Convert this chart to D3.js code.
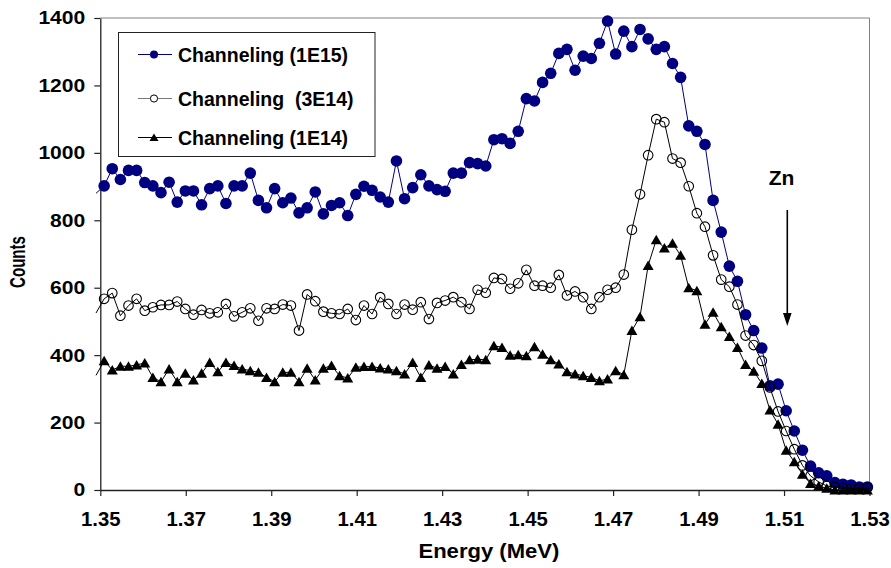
<!DOCTYPE html>
<html>
<head>
<meta charset="utf-8">
<script src="https://d3js.org/d3.v7.min.js"></script>
<style>
  body { margin: 0; background: #fff; }
  text { font-family: "Liberation Sans", Arial, sans-serif; font-weight: bold; fill: #000; }
</style>
</head>
<body>
<script>
// channel energies (MeV); the first channel lies just left of the axis
var energy = [
  1.3490,
  1.3509, 1.3528, 1.3547, 1.3566, 1.3585, 1.3604, 1.3623, 1.3642, 1.3661, 1.3680,
  1.3699, 1.3718, 1.3737, 1.3756, 1.3775, 1.3794, 1.3813, 1.3832, 1.3851, 1.3870,
  1.3889, 1.3908, 1.3927, 1.3946, 1.3965, 1.3984, 1.4003, 1.4022, 1.4041, 1.4060,
  1.4079, 1.4098, 1.4117, 1.4136, 1.4155, 1.4174, 1.4193, 1.4212, 1.4231, 1.4250,
  1.4269, 1.4288, 1.4307, 1.4326, 1.4345, 1.4364, 1.4383, 1.4402, 1.4421, 1.4440,
  1.4459, 1.4478, 1.4497, 1.4516, 1.4535, 1.4554, 1.4573, 1.4592, 1.4611, 1.4630,
  1.4649, 1.4668, 1.4687, 1.4706, 1.4725, 1.4744, 1.4763, 1.4782, 1.4801, 1.4820,
  1.4839, 1.4858, 1.4877, 1.4896, 1.4915, 1.4934, 1.4953, 1.4972, 1.4991, 1.5010,
  1.5029, 1.5048, 1.5067, 1.5086, 1.5105, 1.5124, 1.5143, 1.5162, 1.5181, 1.5200,
  1.5219, 1.5238, 1.5257, 1.5276, 1.5295
];

var counts1E15 = [
  880,
  902, 953, 921, 948, 948, 912, 902, 882, 913, 854,
  887, 887, 846, 894, 902, 850, 902, 902, 940, 859,
  837, 894, 852, 866, 822, 837, 884, 819, 844, 852,
  814, 877, 901, 889, 869, 854, 976, 864, 897, 935,
  902, 891, 886, 940, 940, 971, 968, 961, 1039, 1042,
  1028, 1064, 1161, 1154, 1209, 1236, 1295, 1307, 1245, 1287,
  1280, 1325, 1391, 1293, 1361, 1315, 1366, 1338, 1307, 1315,
  1265, 1224, 1080, 1064, 1025, 859, 765, 664, 619, 520,
  473, 421, 309, 314, 235, 175, 118, 71, 51, 42,
  22, 17, 15, 9, 9
];

var counts3E14 = [
  525,
  567, 584, 517, 547, 567, 532, 542, 549, 549, 559,
  537, 520, 534, 524, 527, 552, 515, 527, 539, 502,
  539, 537, 550, 547, 473, 580, 560, 529, 524, 522,
  537, 504, 547, 522, 572, 552, 522, 550, 535, 557,
  507, 555, 562, 572, 557, 537, 594, 585, 629, 626,
  597, 613, 653, 606, 606, 600, 638, 577, 589, 572,
  537, 572, 594, 600, 639, 772, 877, 993, 1100, 1091,
  983, 971, 901, 821, 781, 696, 624, 603, 550, 458,
  430, 383, 304, 233, 175, 121, 73, 42, 24, 12,
  9, 7, 5, 5, 7
];

var counts1E14 = [
  340,
  383, 356, 367, 367, 371, 377, 334, 321, 359, 321,
  346, 326, 346, 378, 351, 378, 369, 359, 354, 349,
  334, 321, 349, 349, 321, 361, 326, 361, 369, 339,
  332, 364, 366, 366, 362, 359, 354, 344, 378, 334,
  371, 361, 366, 344, 372, 386, 388, 386, 428, 423,
  400, 401, 398, 425, 403, 386, 374, 351, 344, 339,
  334, 324, 329, 354, 342, 473, 514, 666, 742, 718,
  732, 696, 600, 591, 492, 527, 484, 455, 423, 372,
  352, 316, 237, 195, 118, 84, 47, 19, 12, 5,
  0, 0, 0, 0, 0
];

var seriesNames = ["Channeling (1E15)", "Channeling  (3E14)", "Channeling (1E14)"];
var xTicks = [1.35, 1.37, 1.39, 1.41, 1.43, 1.45, 1.47, 1.49, 1.51, 1.53];
var yTicks = [0, 200, 400, 600, 800, 1000, 1200, 1400];

var svg_w = 891, svg_h = 568;
var pLeft = 100.3, pRight = 869.5, pTop = 18, pBottom = 490;
var navy = "#000080";

var svg = d3.select("body")
  .append("svg")
  .attr("width", svg_w)
  .attr("height", svg_h);

var x = d3.scaleLinear().domain([1.35, 1.53]).range([pLeft, pRight]);
var y = d3.scaleLinear().domain([0, 1400]).range([pBottom, pTop]);

// plot area frame (top and right)
svg.append("path")
  .attr("d", "M" + pLeft + "," + pTop + "H" + pRight + "V" + pBottom)
  .attr("fill", "none")
  .attr("stroke", "#808080")
  .attr("stroke-width", 1);

function stretch(sel, sx) {
  sel.each(function() {
    var w = this.getComputedTextLength();
    d3.select(this).attr("textLength", w * sx).attr("lengthAdjust", "spacingAndGlyphs");
  });
}

// axes
var yAxis = svg.append("g")
  .attr("transform", "translate(" + pLeft + ",0)")
  .call(d3.axisLeft(y).tickValues(yTicks).tickSize(6).tickPadding(9).tickSizeOuter(0)
    .tickFormat(d3.format("d")));
var xAxis = svg.append("g")
  .attr("transform", "translate(0," + pBottom + ")")
  .call(d3.axisBottom(x).tickValues(xTicks).tickSize(6).tickPadding(16).tickSizeOuter(0)
    .tickFormat(d3.format(".2f")));

[yAxis, xAxis].forEach(function(g) {
  g.attr("font-family", null).attr("font-size", null);
  g.select(".domain").attr("stroke", "#222").attr("stroke-width", 1.3);
  g.selectAll(".tick line").attr("stroke", "#222").attr("stroke-width", 1.2);
});
yAxis.selectAll("text").style("font-size", "18.5px");
stretch(yAxis.selectAll("text"), 1.14);
xAxis.selectAll("text").style("font-size", "19.5px");
stretch(xAxis.selectAll("text"), 1.04);

// axis titles
svg.append("text")
  .attr("transform", "translate(25,262) rotate(-90)")
  .style("text-anchor", "middle")
  .style("font-size", "22px")
  .attr("textLength", 52)
  .attr("lengthAdjust", "spacingAndGlyphs")
  .text("Counts");

var xt = svg.append("text")
  .attr("x", (pLeft + pRight) / 2 + 4)
  .attr("y", 558)
  .style("text-anchor", "middle")
  .style("font-size", "21px")
  .text("Energy (MeV)");
stretch(xt, 1.05);

// series
var triPath = "M0,-5L5.5,4.5L-5.5,4.5Z";
var series = [
  { name: seriesNames[0], values: counts1E15, line: navy, kind: "dot" },
  { name: seriesNames[1], values: counts3E14, line: "#000", kind: "ring" },
  { name: seriesNames[2], values: counts1E14, line: "#000", kind: "tri" }
];

var line = d3.line()
  .x(function(d) { return x(d[0]); })
  .y(function(d) { return y(d[1]); });

series.forEach(function(s) {
  var pts = energy.map(function(e, i) { return [e, s.values[i]]; });
  var shown = pts.filter(function(d) { return d[0] >= 1.35; });
  var g = svg.append("g");
  g.append("path")
    .attr("d", line(pts))
    .attr("fill", "none")
    .attr("stroke", s.line)
    .attr("stroke-width", 1);
  if (s.kind == "dot") {
    g.selectAll("circle").data(shown).enter().append("circle")
      .attr("cx", function(d) { return x(d[0]); })
      .attr("cy", function(d) { return y(d[1]); })
      .attr("r", 5.8)
      .attr("fill", navy);
  } else if (s.kind == "ring") {
    g.selectAll("circle").data(shown).enter().append("circle")
      .attr("cx", function(d) { return x(d[0]); })
      .attr("cy", function(d) { return y(d[1]); })
      .attr("r", 4.8)
      .attr("fill", "none")
      .attr("stroke", "#000")
      .attr("stroke-width", 1.1);
  } else {
    g.selectAll("path.tri").data(shown).enter().append("path")
      .attr("class", "tri")
      .attr("d", triPath)
      .attr("transform", function(d) { return "translate(" + x(d[0]) + "," + y(d[1]) + ")"; })
      .attr("fill", "#000");
  }
});

// legend
var lg = svg.append("g");
lg.append("rect")
  .attr("x", 118.5).attr("y", 32.5)
  .attr("width", 256.5).attr("height", 124)
  .attr("fill", "#fff")
  .attr("stroke", "#222")
  .attr("stroke-width", 1);
var rowY = [54.5, 98.5, 137.5];
var legLine = [navy, "#777", "#000"];
series.forEach(function(s, i) {
  var ry = rowY[i];
  lg.append("line")
    .attr("x1", 138).attr("x2", 172)
    .attr("y1", ry).attr("y2", ry)
    .attr("stroke", legLine[i]).attr("stroke-width", 1);
  if (s.kind == "dot") {
    lg.append("circle").attr("cx", 154).attr("cy", ry).attr("r", 4).attr("fill", navy);
  } else if (s.kind == "ring") {
    lg.append("circle").attr("cx", 154).attr("cy", ry).attr("r", 3.6)
      .attr("fill", "#fff").attr("stroke", "#000").attr("stroke-width", 1);
  } else {
    lg.append("path").attr("d", "M0,-4L4.5,3.5L-4.5,3.5Z")
      .attr("transform", "translate(154," + ry + ")").attr("fill", "#000");
  }
  lg.append("text")
    .attr("x", 178)
    .attr("y", ry)
    .attr("dy", "0.36em")
    .style("font-size", "19.5px")
    .style("white-space", "pre")
    .text(s.name);
});

// Zn marker
svg.append("text")
  .attr("x", 781.5)
  .attr("y", 185)
  .style("text-anchor", "middle")
  .style("font-size", "21px")
  .text("Zn");
svg.append("line")
  .attr("x1", 787.3).attr("x2", 787.3)
  .attr("y1", 210).attr("y2", 316)
  .attr("stroke", "#000").attr("stroke-width", 1.6);
svg.append("path")
  .attr("d", "M787.3,326L783,313L791.6,313Z")
  .attr("fill", "#000");
</script>
</body>
</html>
